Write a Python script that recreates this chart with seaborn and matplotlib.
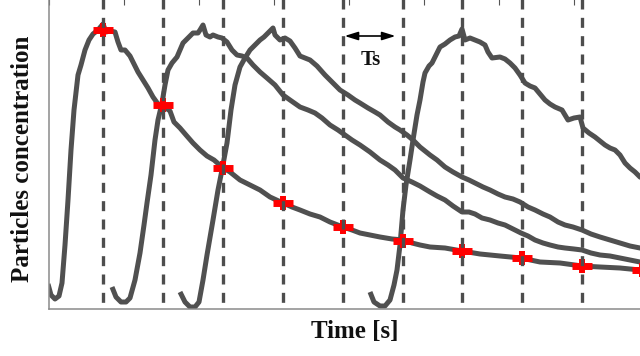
import numpy as np
import pandas as pd
import matplotlib
matplotlib.use("Agg")
import matplotlib.pyplot as plt
import seaborn as sns

# ---------------- data (time in s, concentration in a.u.) ----------------
t1 = [-0.1, 0.2, 0.6, 1.0, 1.3, 1.6, 1.9, 2.2, 2.5, 2.9, 3.2, 3.6, 4.0, 4.4, 4.9, 5.4, 5.7, 6.1, 6.6,
      6.9, 7.2, 7.6, 8.1, 8.5, 8.9, 9.4, 9.9, 10.4, 10.9, 11.3, 11.7, 12.1, 12.5, 13.1, 13.7, 14.4,
      15.1, 15.8, 16.5, 17.3, 18.1, 19.1, 20.1, 21.1, 22.1, 23.4, 24.3, 25.1, 26.1, 27.1, 28.1, 29.4,
      30.3, 31.1, 32.1, 33.1, 34.3, 35.5, 36.3, 37.1, 38.1, 39.6, 41.3, 43.1, 45.1, 47.2, 49.1, 51.1,
      53.3, 55.1, 57.1, 59.1, 61.6]
c1 = [2.5, 1.4, 1.0, 1.3, 2.6, 6.4, 10.9, 15.9, 19.9, 23.4, 24.4, 25.9, 26.9, 27.5, 27.9, 28.5, 27.7,
      27.8, 27.7, 26.7, 25.9, 25.9, 25.3, 24.5, 23.7, 22.9, 22.1, 21.2, 20.5, 20.2, 20.1, 19.8, 18.7,
      18.1, 17.4, 16.6, 15.9, 15.3, 14.9, 14.2, 13.7, 12.9, 12.4, 11.9, 11.2, 10.6, 10.2, 9.9, 9.5,
      9.2, 8.7, 8.2, 7.9, 7.6, 7.4, 7.2, 7.0, 6.9, 6.6, 6.4, 6.2, 6.1, 5.8, 5.5, 5.3, 5.1, 4.7, 4.6,
      4.3, 4.2, 4.1, 3.9, 3.7]

t2 = [6.3, 6.7, 7.2, 7.7, 8.1, 8.6, 9.1, 9.5, 9.8, 10.2, 10.6, 10.9, 11.3, 11.6, 11.9, 12.3, 12.8,
      13.1, 13.4, 13.9, 14.4, 14.9, 15.1, 15.4, 15.7, 16.1, 16.4, 16.9, 17.3, 17.8, 18.3, 18.8, 19.3,
      19.8, 20.4, 21.1, 21.8, 22.6, 23.4, 24.1, 25.1, 25.9, 26.6, 27.3, 28.1, 28.9, 29.6, 30.3, 31.1,
      32.1, 33.1, 33.9, 34.6, 35.4, 36.3, 37.1, 38.1, 38.8, 39.6, 40.4, 41.3, 42.0, 42.6, 43.3, 44.1,
      44.9, 45.6, 46.4, 47.2, 47.9, 48.6, 49.4, 50.1, 50.9, 51.6, 52.5, 53.3, 54.2, 55.1, 56.1, 57.1,
      58.1, 59.1, 61.6]
c2 = [2.2, 1.2, 0.7, 0.7, 1.1, 2.9, 5.6, 8.4, 10.6, 13.4, 16.9, 18.9, 20.6, 22.4, 23.9, 24.6, 25.2,
      25.9, 26.6, 27.1, 27.6, 27.6, 27.9, 28.4, 27.4, 27.2, 27.4, 27.2, 27.1, 26.7, 25.9, 25.4, 25.3,
      25.1, 24.4, 23.7, 23.1, 22.4, 21.4, 20.9, 20.2, 19.9, 19.6, 19.1, 18.4, 17.9, 17.4, 16.9, 16.4,
      15.7, 14.9, 14.4, 13.9, 13.1, 12.7, 12.3, 11.7, 11.3, 10.9, 10.3, 9.7, 9.7, 9.5, 9.1, 8.9, 8.6,
      8.4, 8.0, 7.6, 7.3, 6.9, 6.6, 6.4, 6.2, 6.1, 6.0, 5.9, 5.6, 5.4, 5.3, 5.1, 4.9, 4.7, 4.4]

t3 = [13.1, 13.6, 14.1, 14.6, 15.0, 15.4, 15.8, 16.4, 16.9, 17.3, 17.8, 18.2, 18.6, 19.1, 19.6, 20.1,
      20.6, 21.1, 21.5, 21.9, 22.2, 22.4, 22.6, 23.1, 23.6, 24.1, 24.6, 25.1, 25.6, 26.1, 26.8, 27.6,
      28.4, 29.1, 29.9, 30.6, 31.1, 31.9, 32.6, 33.1, 33.9, 34.6, 35.1, 35.8, 36.4, 37.1, 38.1, 38.8,
      39.6, 40.4, 41.3, 42.0, 42.6, 43.4, 44.1, 44.9, 45.6, 46.4, 47.1, 47.9, 48.6, 49.4, 50.1, 50.9,
      51.6, 52.4, 53.3, 54.2, 55.1, 56.1, 57.1, 58.1, 59.1, 61.6]
c3 = [1.7, 0.7, 0.2, 0.2, 0.7, 2.9, 5.4, 8.9, 11.9, 13.9, 16.6, 19.9, 22.4, 24.2, 25.1, 25.9, 26.4,
      26.9, 27.2, 27.6, 27.9, 28.1, 27.4, 26.9, 27.1, 26.8, 26.1, 25.3, 25.1, 24.9, 24.3, 23.4, 22.6,
      21.9, 21.4, 20.9, 20.6, 20.1, 19.7, 19.4, 18.7, 18.2, 17.9, 17.4, 16.9, 16.2, 15.4, 14.9, 14.2,
      13.7, 13.2, 12.9, 12.6, 12.2, 11.9, 11.5, 11.2, 11.0, 10.7, 10.2, 9.9, 9.5, 9.2, 8.7, 8.4, 8.2,
      7.9, 7.5, 7.2, 6.9, 6.6, 6.3, 6.1, 5.7]

t4 = [32.1, 32.5, 33.1, 33.6, 34.1, 34.5, 34.8, 35.1, 35.4, 35.7, 36.1, 36.4, 36.8, 37.1, 37.4, 37.6,
      38.0, 38.3, 38.7, 39.1, 39.6, 40.1, 40.6, 41.0, 41.3, 41.6, 42.1, 42.6, 43.1, 43.6, 43.9, 44.3,
      45.1, 45.6, 46.1, 46.6, 47.1, 47.6, 48.1, 48.6, 49.1, 49.6, 50.1, 50.6, 51.3, 51.9, 52.5, 53.1,
      53.4, 54.0, 54.6, 55.1, 55.6, 56.1, 56.6, 57.1, 57.6, 58.1, 58.6, 59.1, 61.6]
c4 = [1.7, 0.7, 0.3, 0.3, 0.9, 2.4, 3.9, 6.4, 9.9, 12.4, 14.9, 16.9, 19.4, 20.9, 22.7, 23.6, 24.3,
      24.6, 25.4, 26.2, 26.5, 26.9, 27.2, 27.3, 28.0, 26.9, 27.1, 26.9, 26.7, 26.4, 25.7, 25.1, 25.2,
      25.0, 24.6, 24.1, 23.4, 22.6, 22.3, 22.1, 21.5, 20.9, 20.5, 20.2, 19.9, 18.9, 19.1, 19.2, 18.1,
      17.6, 17.2, 16.8, 16.4, 16.1, 15.9, 15.4, 14.6, 14.1, 13.7, 13.2, 11.4]

# sampling instants (every Ts) and sampled values of the first curve
first_sample = 5.4
Ts = 5.99
n_samples = 10
sample_vals = [27.9, 20.4, 14.1, 10.6, 8.2, 6.8, 5.8, 5.1, 4.3, 3.9]

xlabel = "Time [s]"
ylabel = "Particles concentration"
ts_label = "Ts"

# ---------------- style ----------------
sns.set_style("white")
plt.rcParams["font.family"] = ["Liberation Serif", "DejaVu Serif"]
plt.rcParams["font.weight"] = "bold"
plt.rcParams["lines.solid_joinstyle"] = "round"
plt.rcParams["lines.solid_capstyle"] = "butt"

fig = plt.figure(figsize=(6.4, 3.56), dpi=100)
ax = fig.add_axes([49 / 640, 47 / 356, 615 / 640, 310.5 / 356])

curves = pd.concat([
    pd.DataFrame({"t": t, "c": c, "curve": k})
    for k, (t, c) in enumerate([(t1, c1), (t2, c2), (t3, c3), (t4, c4)])
], ignore_index=True)

sns.lineplot(data=curves, x="t", y="c", units="curve", estimator=None, sort=False,
             color="#505050", linewidth=3.6, ax=ax, zorder=2)

samples_t = first_sample + Ts * np.arange(n_samples)
sns.scatterplot(x=samples_t, y=sample_vals, marker="_", s=14.5 ** 2, linewidth=5.0,
                color="#ff0000", ax=ax, zorder=3)
sns.scatterplot(x=samples_t, y=sample_vals, marker="|", s=10 ** 2, linewidth=4.3,
                color="#ff0000", ax=ax, zorder=3)

ymax = 31.05
ax.vlines(samples_t, ymax, 0, colors="#4d4d4d", linewidth=2.4,
          linestyles=(0, (3.0, 2.5)), zorder=4)

# Ts annotation
arrow_y = 27.3
ax.annotate("", xy=(samples_t[5] - 0.7, arrow_y), xytext=(samples_t[4] + 0.2, arrow_y),
            arrowprops=dict(arrowstyle="<|-|>,head_length=0.8,head_width=0.25",
                            mutation_scale=10, color="black", lw=1.2,
                            shrinkA=0, shrinkB=0), zorder=5)
ax.text(32.2, 24.4, ts_label, ha="center", va="baseline", fontsize=15,
        fontweight="bold", color="#111111", zorder=5)

ax.set_xlim(0, 61.5)
ax.set_ylim(0, ymax)
ax.set_xticks(np.arange(0, 61.5, 7.5))
ax.set_yticks(np.arange(0, ymax + 0.01, 3.45))
ax.tick_params(direction="in", top=True, right=True, length=4.5, width=0.8,
               color="#555555", labelbottom=False, labelleft=False)
for side in ["left", "bottom", "top", "right"]:
    ax.spines[side].set_color("#8a8a8a")
    ax.spines[side].set_linewidth(1.1)

ax.set_xlabel(xlabel, fontsize=18, fontweight="bold", color="#111111")
ax.set_ylabel(ylabel, fontsize=18, fontweight="bold", color="#111111")
ax.xaxis.set_label_coords(0.4976, -0.037)
ax.yaxis.set_label_coords(-0.0244, 0.483)

fig.savefig("out.png", dpi=100)
